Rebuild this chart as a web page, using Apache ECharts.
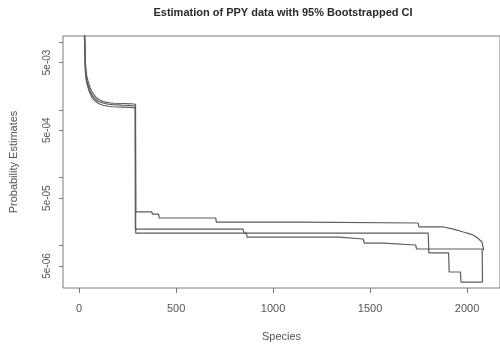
<!DOCTYPE html>
<html>
<head>
<meta charset="utf-8">
<script src="https://cdn.jsdelivr.net/npm/echarts@6/dist/echarts.min.js"></script>
<style>
  html, body { margin: 0; padding: 0; background: #fff; }
  #chart { width: 500px; height: 349px; }
</style>
</head>
<body>
<div id="chart"></div>
<script>
// Species rank (x) against estimated probability (y) with bootstrap bounds.
const xTicks = [0, 500, 1000, 1500, 2000];
const yTicks = [1e-2, 5e-3, 1e-3, 5e-4, 1e-4, 5e-5, 1e-5, 5e-6];
const yLabels = [5e-3, 5e-4, 5e-5, 5e-6];

const upperCI = [
  [1, 0.08], [12, 0.038], [22, 0.021], [28, 0.0148], [30, 0.0112], [31, 0.0076],
  [32, 0.0052], [35, 0.0041], [39, 0.0032], [47, 0.0026], [57, 0.00210],
  [70, 0.00176], [85, 0.00155], [105, 0.00140], [125, 0.00132], [155, 0.00127],
  [180, 0.00125], [230, 0.00124], [270, 0.00123], [291, 0.00121],
  [292, 3.13e-5], [375, 3.13e-5], [378, 2.9e-5], [410, 2.9e-5], [413, 2.55e-5],
  [704, 2.55e-5], [708, 2.22e-5], [1135, 2.22e-5], [1140, 2.15e-5],
  [1748, 2.15e-5], [1752, 1.88e-5], [1880, 1.88e-5], [1930, 1.75e-5],
  [1981, 1.585e-5], [2010, 1.5e-5], [2031, 1.43e-5], [2055, 1.29e-5],
  [2077, 1.13e-5], [2085, 1.1e-5], [2086, 8.6e-6]
];

const estimate = [
  [1, 0.07], [12, 0.035], [22, 0.019], [27, 0.0135], [29, 0.0105], [30, 0.0070],
  [31, 0.0048], [33, 0.0038], [37, 0.0029], [44, 0.0024], [54, 0.00195],
  [66, 0.00165], [80, 0.00147], [100, 0.00133], [122, 0.00126], [150, 0.00121],
  [172, 0.00119], [220, 0.00117], [260, 0.00116], [289, 0.00114],
  [290, 1.75e-5], [845, 1.75e-5], [850, 1.53e-5], [1800, 1.53e-5],
  [1803, 7.78e-6], [1905, 7.78e-6], [1908, 4.08e-6], [1966, 4.08e-6],
  [1969, 2.9e-6], [2080, 2.9e-6]
];

const lowerCI = [
  [1, 0.065], [12, 0.032], [22, 0.0175], [27, 0.0125], [29, 0.0098], [30, 0.0064],
  [31, 0.0044], [33, 0.0035], [37, 0.0027], [44, 0.00222], [54, 0.00181],
  [66, 0.00153], [80, 0.00137], [100, 0.00124], [122, 0.00117], [150, 0.00113],
  [172, 0.00111], [220, 0.00110], [260, 0.00109], [290, 0.00107],
  [292, 1.53e-5], [862, 1.53e-5], [866, 1.336e-5], [1340, 1.336e-5],
  [1345, 1.25e-5], [1465, 1.25e-5], [1470, 1.09e-5], [1570, 1.09e-5],
  [1575, 1.02e-5], [1735, 1.02e-5], [1740, 8.9e-6], [2078, 8.9e-6],
  [2080, 2.9e-6]
];

function sciLabel(v) {
  const e = Math.floor(Math.log10(v) + 1e-9);
  const m = Math.round(v / Math.pow(10, e));
  const ae = Math.abs(e);
  return m + 'e' + (e < 0 ? '-' : '+') + (ae < 10 ? '0' : '') + ae;
}

const lineColor = '#5c5c5c';
const boxColor = '#7a7a7a';
const textColor = '#555';

function lineSeries(name, data) {
  return {
    name: name,
    type: 'line',
    data: data,
    showSymbol: false,
    symbol: 'none',
    clip: true,
    lineStyle: { color: lineColor, width: 1.2 },
    emphasis: { disabled: true },
    animation: false
  };
}

const chart = echarts.init(document.getElementById('chart'), null, { renderer: 'canvas' });
chart.setOption({
  backgroundColor: '#fff',
  animation: false,
  grid: {
    left: 60, top: 36, right: -4, bottom: 61,
    show: true, borderColor: boxColor, borderWidth: 1, backgroundColor: 'transparent'
  },
  graphic: [{
    type: 'text', x: 283, y: 13,
    style: {
      text: 'Estimation of PPY data with 95% Bootstrapped CI',
      align: 'center', verticalAlign: 'middle',
      font: 'bold 11px "Liberation Sans", Arial, sans-serif',
      fill: '#2a2a2a'
    }
  }],
  xAxis: {
    type: 'value',
    min: -83, max: 2170,
    name: 'Species', nameLocation: 'middle', nameGap: 43,
    nameTextStyle: { color: textColor, fontSize: 11, fontFamily: 'Liberation Sans' },
    axisLine: { show: false, onZero: false },
    splitLine: { show: false },
    axisTick: { show: true, inside: false, length: 5, customValues: xTicks,
      lineStyle: { color: boxColor } },
    axisLabel: { customValues: xTicks, margin: 15, color: textColor,
      fontSize: 11, fontFamily: 'Liberation Sans',
      formatter: function (v) { return String(v); } }
  },
  yAxis: {
    type: 'log', logBase: 10,
    min: 2.37e-6, max: 0.01225,
    name: 'Probability Estimates', nameLocation: 'middle', nameGap: 44,
    nameTextStyle: { color: textColor, fontSize: 11, fontFamily: 'Liberation Sans' },
    axisLine: { show: false, onZero: false },
    splitLine: { show: false },
    minorTick: { show: false },
    axisTick: { show: true, inside: false, length: 4, customValues: yTicks,
      lineStyle: { color: boxColor } },
    axisLabel: { customValues: yLabels, rotate: 90, margin: 11, color: textColor,
      fontSize: 10, fontFamily: '"Liberation Sans Narrow", "Liberation Sans", sans-serif',
      formatter: sciLabel }
  },
  series: [
    lineSeries('Upper 95% CI', upperCI),
    lineSeries('Estimate', estimate),
    lineSeries('Lower 95% CI', lowerCI)
  ]
});
</script>
</body>
</html>
